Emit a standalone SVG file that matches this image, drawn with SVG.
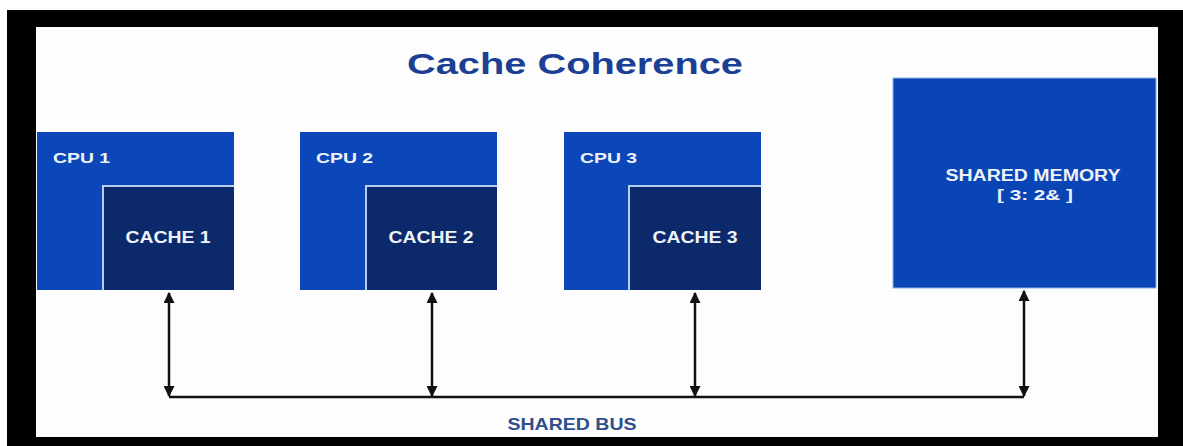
<svg xmlns="http://www.w3.org/2000/svg" width="1183" height="446" viewBox="0 0 1183 446">
  <style>
    .cpu { fill: #0b47b8; }
    .cache { fill: #0c2a6b; }
    .edge { fill: none; stroke: #b7cdf2; stroke-width: 2; }
    .mem { fill: #0a45b6; stroke: #8fb0e8; stroke-width: 1; }
    .lbl { font-family: "Liberation Sans", Arial, sans-serif; font-weight: bold; fill: #eef2fa; }
    .wire { stroke: #111111; stroke-width: 2.5; fill: none; }
  </style>
  <defs>
    <marker id="tip" viewBox="0 0 10 10" refX="9" refY="5" markerWidth="4.4" markerHeight="4.4" markerUnits="strokeWidth" orient="auto-start-reverse">
      <path d="M0,0 L10,5 L0,10 Z" fill="#111111"/>
    </marker>
  </defs>

  <!-- frame -->
  <rect x="0" y="0" width="1183" height="446" fill="#ffffff"/>
  <rect x="7" y="10" width="1176" height="436" fill="#000000"/>
  <rect x="36" y="27" width="1122" height="410" fill="#fdfdfd"/>

  <!-- title -->
  <text x="575" y="74" text-anchor="middle" font-family="'Liberation Sans', Arial, sans-serif" font-weight="bold" font-size="30" fill="#1b3f94" textLength="336" lengthAdjust="spacingAndGlyphs">Cache Coherence</text>

  <!-- CPU 1 -->
  <g id="cpu1">
    <rect class="cpu" x="37" y="132" width="197" height="158"/>
    <text class="lbl" x="53" y="163" font-size="14" textLength="57" lengthAdjust="spacingAndGlyphs">CPU 1</text>
    <rect class="cache" x="102" y="185" width="132" height="105"/>
    <path class="edge" d="M103,290 V186 H234"/>
    <text class="lbl" x="168" y="243" font-size="16" text-anchor="middle" textLength="85" lengthAdjust="spacingAndGlyphs">CACHE 1</text>
  </g>

  <!-- CPU 2 -->
  <g id="cpu2">
    <rect class="cpu" x="300" y="132" width="197" height="158"/>
    <text class="lbl" x="316" y="163" font-size="14" textLength="57" lengthAdjust="spacingAndGlyphs">CPU 2</text>
    <rect class="cache" x="365" y="185" width="132" height="105"/>
    <path class="edge" d="M366,290 V186 H497"/>
    <text class="lbl" x="431" y="243" font-size="16" text-anchor="middle" textLength="85" lengthAdjust="spacingAndGlyphs">CACHE 2</text>
  </g>

  <!-- CPU 3 -->
  <g id="cpu3">
    <rect class="cpu" x="564" y="132" width="197" height="158"/>
    <text class="lbl" x="580" y="163" font-size="14" textLength="57" lengthAdjust="spacingAndGlyphs">CPU 3</text>
    <rect class="cache" x="628" y="185" width="133" height="105"/>
    <path class="edge" d="M629,290 V186 H761"/>
    <text class="lbl" x="695" y="243" font-size="16" text-anchor="middle" textLength="85" lengthAdjust="spacingAndGlyphs">CACHE 3</text>
  </g>

  <!-- shared memory -->
  <g id="memory">
    <rect class="mem" x="893" y="78" width="263" height="210"/>
    <text class="lbl" x="1033" y="181" font-size="16" text-anchor="middle" textLength="175" lengthAdjust="spacingAndGlyphs">SHARED MEMORY</text>
    <text class="lbl" x="1035" y="200" font-size="15" text-anchor="middle" textLength="76" lengthAdjust="spacingAndGlyphs">[ 3: 2&amp; ]</text>
  </g>

  <!-- bus connections -->
  <g id="connectors">
    <line class="wire" x1="169" y1="397" x2="1024" y2="397"/>
    <line class="wire" x1="169" y1="396" x2="169" y2="293" marker-start="url(#tip)" marker-end="url(#tip)"/>
    <line class="wire" x1="432" y1="396" x2="432" y2="293" marker-start="url(#tip)" marker-end="url(#tip)"/>
    <line class="wire" x1="695" y1="396" x2="695" y2="293" marker-start="url(#tip)" marker-end="url(#tip)"/>
    <line class="wire" x1="1024" y1="396" x2="1024" y2="291" marker-start="url(#tip)" marker-end="url(#tip)"/>
  </g>

  <text x="572" y="430" text-anchor="middle" font-family="'Liberation Sans', Arial, sans-serif" font-weight="bold" font-size="17" fill="#2e4f8d" textLength="129" lengthAdjust="spacingAndGlyphs">SHARED BUS</text>
</svg>
